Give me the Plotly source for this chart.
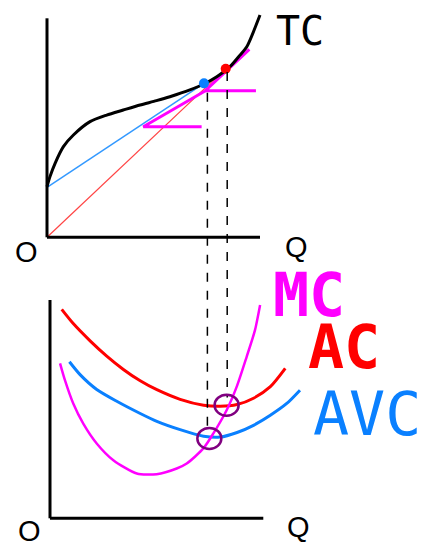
import plotly.graph_objects as go

# ---- Short-run total cost (upper panel) ----
tc_q = [0.0, 0.14, 0.38, 0.77, 1.24, 2.02, 2.80, 3.58, 4.37, 5.14, 5.77, 6.71,
        7.37, 7.97, 8.59, 9.06, 9.38, 10.0]
tc_c = [2.31, 2.77, 3.38, 4.14, 4.67, 5.28, 5.58, 5.81, 6.04, 6.24, 6.42, 6.73,
        7.00, 7.33, 7.79, 8.32, 8.70, 10.15]

fixed_cost = 2.28                 # TC intercept (blue ray start)
avc_point = (7.37, 7.03)          # tangency of ray from fixed cost (blue dot)
ac_point = (8.39, 7.70)           # tangency of ray from origin (red dot)

# slope triangles of the tangent (MC) at the two points
mc_tri1_q = [7.26, 4.52, 7.42]
mc_tri1_c = [5.05, 5.05, 6.68]
mc_tri2_q = [9.81, 7.42, 9.50]
mc_tri2_c = [6.69, 6.69, 8.58]

q_avc_min_top = 7.53
q_ac_min_top = 8.46

# ---- Per-unit cost curves (lower panel) ----
ac_q = [0.55, 1.09, 1.88, 2.66, 3.44, 4.23, 5.01, 6.10, 7.20, 7.98, 8.77,
        9.54, 10.33, 11.03]
ac_c = [9.57, 8.92, 8.13, 7.43, 6.82, 6.30, 5.89, 5.45, 5.18, 5.13, 5.21,
        5.50, 6.03, 6.87]

avc_q = [0.91, 1.41, 2.19, 3.13, 4.23, 5.01, 6.10, 7.20, 7.98, 8.77,
         9.54, 10.33, 11.10, 11.72]
avc_c = [7.17, 6.58, 5.90, 5.36, 4.80, 4.44, 4.06, 3.76, 3.72, 3.93,
         4.26, 4.72, 5.26, 5.87]

mc_q = [0.47, 0.70, 1.09, 1.56, 2.19, 2.97, 4.07, 5.00, 5.94, 6.41, 7.19, 7.66,
        8.28, 8.75, 9.22, 9.61, 9.85]
mc_c = [7.10, 6.33, 5.26, 4.34, 3.43, 2.66, 2.05, 2.02, 2.28, 2.51, 3.20, 3.89,
        4.95, 6.02, 7.40, 8.62, 9.77]

# MC crossing AVC minimum and AC minimum
cross_q = [7.47, 8.28]
cross_c = [3.66, 5.18]

W, H = 429, 543

# axis ranges (pixel-calibrated so that 0..10 spans the drawn axes)
TOP_X = [-47 / 21.3, (W - 47) / 21.3]
TOP_Y = [-(271.5 - 237.3) / 21.9, 237.3 / 21.9]
BOT_X = [-50 / 21.33, (W - 50) / 21.33]
BOT_Y = [-(543 - 518.3) / 21.83, (518.3 - 271.5) / 21.83]
TOP_DOM = [0.5, 1.0]
BOT_DOM = [0.0, 0.5]


def paper_y(c, rng, dom):
    return dom[0] + (c - rng[0]) / (rng[1] - rng[0]) * (dom[1] - dom[0])


MAGENTA = "#ff00ff"
RED = "#ff0000"
BLUE = "#0a80ff"
PURPLE = "#800080"

fig = go.Figure()

def line(x, y, color, width, xa="x", ya="y", smooth=True):
    shape = dict(shape="spline", smoothing=0.7) if smooth else dict(shape="linear")
    fig.add_trace(go.Scatter(x=x, y=y, mode="lines", xaxis=xa, yaxis=ya,
                             line=dict(color=color, width=width, **shape),
                             hoverinfo="skip", showlegend=False))

# upper panel
line([0, avc_point[0]], [fixed_cost, avc_point[1]], "#3399ff", 1.5, smooth=False)
line([0, ac_point[0]], [0, ac_point[1]], "#ff4444", 1.2, smooth=False)
line(mc_tri1_q, mc_tri1_c, MAGENTA, 3, smooth=False)
line(mc_tri2_q, mc_tri2_c, MAGENTA, 3, smooth=False)
line(tc_q, tc_c, "black", 3)
fig.add_trace(go.Scatter(x=[avc_point[0], ac_point[0]], y=[avc_point[1], ac_point[1]],
                         mode="markers", marker=dict(color=[BLUE, RED], size=10),
                         hoverinfo="skip", showlegend=False))

# lower panel
line(ac_q, ac_c, RED, 3, "x2", "y2")
line(avc_q, avc_c, BLUE, 3, "x2", "y2")
line(mc_q, mc_c, MAGENTA, 2.5, "x2", "y2")

shapes = []
# axes
for xr, yr in (("x", "y"), ("x2", "y2")):
    shapes.append(dict(type="line", xref=xr, yref=yr, x0=0, y0=0, x1=10, y1=0,
                       line=dict(color="black", width=3)))
    shapes.append(dict(type="line", xref=xr, yref=yr, x0=0, y0=0, x1=0, y1=10,
                       line=dict(color="black", width=3)))

# dashed guides from the tangency points down to the MC crossings
for q_top, c_top, q_b, c_b in ((q_avc_min_top, 6.60, cross_q[0], cross_c[0]),
                              (q_ac_min_top, 7.55, cross_q[1], cross_c[1])):
    shapes.append(dict(type="line", xref="x", yref="paper",
                       x0=q_top, x1=q_top,
                       y0=paper_y(c_top, TOP_Y, TOP_DOM),
                       y1=paper_y(c_b + 0.35, BOT_Y, BOT_DOM),
                       line=dict(color="black", width=1.5, dash="dash")))

# circles marking the crossings
rx, ry = 12 / 21.33, 10.5 / 21.83
for q, c in zip(cross_q, cross_c):
    shapes.append(dict(type="circle", xref="x2", yref="y2",
                       x0=q - rx, x1=q + rx, y0=c - ry, y1=c + ry,
                       line=dict(color=PURPLE, width=2.5)))

def label(text, x_left, y_mid, color, size, family, bold=False):
    t = f"<b>{text}</b>" if bold else text
    return dict(text=t, x=x_left / W, y=1 - y_mid / H, xref="paper", yref="paper",
                xanchor="left", yanchor="middle", showarrow=False,
                font=dict(color=color, size=size, family=family))

SANS = "Liberation Sans, Arial, sans-serif"
MONO = "DejaVu Sans Mono, Liberation Mono, monospace"

annotations = [
    label("TC", 274, 31, "black", 40, MONO),
    label("O", 13, 252, "black", 29, SANS),
    label("Q", 283, 247, "black", 29, SANS),
    label("MC", 271, 295, MAGENTA, 60, MONO, bold=True),
    label("AC", 306, 347, RED, 60, MONO, bold=True),
    label("AVC", 311, 414, BLUE, 60, MONO),
    label("O", 16, 531, "black", 29, SANS),
    label("Q", 285, 527, "black", 29, SANS),
]

ax_common = dict(visible=False, showgrid=False, zeroline=False, fixedrange=True)
fig.update_layout(
    width=W, height=H, autosize=False,
    margin=dict(l=0, r=0, t=0, b=0),
    paper_bgcolor="white", plot_bgcolor="white",
    xaxis=dict(domain=[0, 1], range=TOP_X, anchor="y", **ax_common),
    yaxis=dict(domain=TOP_DOM, range=TOP_Y, anchor="x", **ax_common),
    xaxis2=dict(domain=[0, 1], range=BOT_X, anchor="y2", **ax_common),
    yaxis2=dict(domain=BOT_DOM, range=BOT_Y, anchor="x2", **ax_common),
    shapes=shapes, annotations=annotations, showlegend=False,
)

fig.write_html("out.html")
